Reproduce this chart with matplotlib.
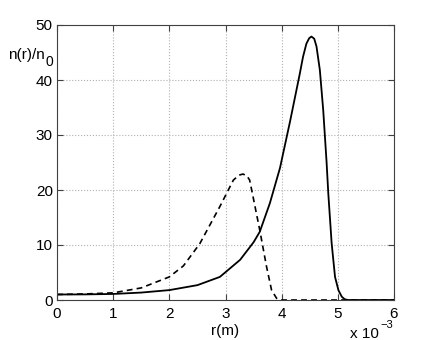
import numpy as np
import matplotlib.pyplot as plt

# 数据 (r 单位: 1e-3 m)
r_solid = [0, 0.5, 1.0, 1.5, 2.0, 2.5, 2.9, 3.26, 3.5, 3.61, 3.79, 3.97, 4.15, 4.32,
           4.38, 4.44, 4.49, 4.53, 4.58, 4.62, 4.68, 4.74, 4.80, 4.83, 4.89, 4.95,
           5.01, 5.07, 5.12, 5.18, 6.0]
n_solid = [1.0, 1.02, 1.1, 1.35, 1.8, 2.7, 4.2, 7.3, 10.5, 12.4, 17.6, 24.0, 32.5, 41.0,
           44.2, 46.6, 47.6, 47.9, 47.5, 46.1, 41.8, 34.5, 25.0, 19.4, 10.3, 4.2,
           1.8, 0.6, 0.15, 0.0, 0.0]

r_dash = [0, 0.5, 1.0, 1.5, 2.0, 2.25, 2.54, 2.9, 3.02, 3.14, 3.24, 3.31, 3.38, 3.43,
          3.49, 3.61, 3.73, 3.82, 3.91, 3.97, 6.0]
n_dash = [1.0, 1.1, 1.3, 2.2, 4.2, 6.2, 10.2, 17.0, 19.4, 21.8, 22.7, 22.9, 22.6, 21.8,
          18.8, 12.7, 6.1, 1.8, 0.3, 0.0, 0.0]

plt.rcParams['font.family'] = ['Liberation Sans', 'DejaVu Sans']
plt.rcParams['font.size'] = 11

fig = plt.figure(figsize=(4.36, 3.40), dpi=100)
ax = fig.add_axes([57/436, 40/340, 337/436, 275/340])

ax.plot(r_dash, n_dash, '--k', lw=1.2, dashes=(3.5, 2.5))
ax.plot(r_solid, n_solid, '-k', lw=1.3)

ax.set_xlim(0, 6)
ax.set_ylim(0, 50)
ax.set_xticks([0, 1, 2, 3, 4, 5, 6])
ax.set_yticks([0, 10, 20, 30, 40, 50])
ax.grid(True, ls=':', color='#b0b0b0', lw=0.8)
ax.tick_params(direction='in', top=True, right=True, length=4, color='#404040', pad=3)
ax.tick_params(axis='x', pad=5)
for s in ax.spines.values():
    s.set_color('#404040')

ax.set_xlabel('r(m)', labelpad=2)
# y 轴标签 n(r)/n0，下标手动放置
fig.text(8/436, 1 - 59/340, 'n(r)/n', ha='left', va='baseline')
fig.text(45.5/436, 1 - 66/340, '0', ha='left', va='baseline', fontsize=10)
# 指数标注 x 10^-3
fig.text(379/436, 1 - 338/340, 'x 10', ha='right', va='baseline')
fig.text(380/436, 1 - 328.5/340, '\u22123', ha='left', va='baseline', fontsize=8)

plt.savefig('out.png', dpi=100)
